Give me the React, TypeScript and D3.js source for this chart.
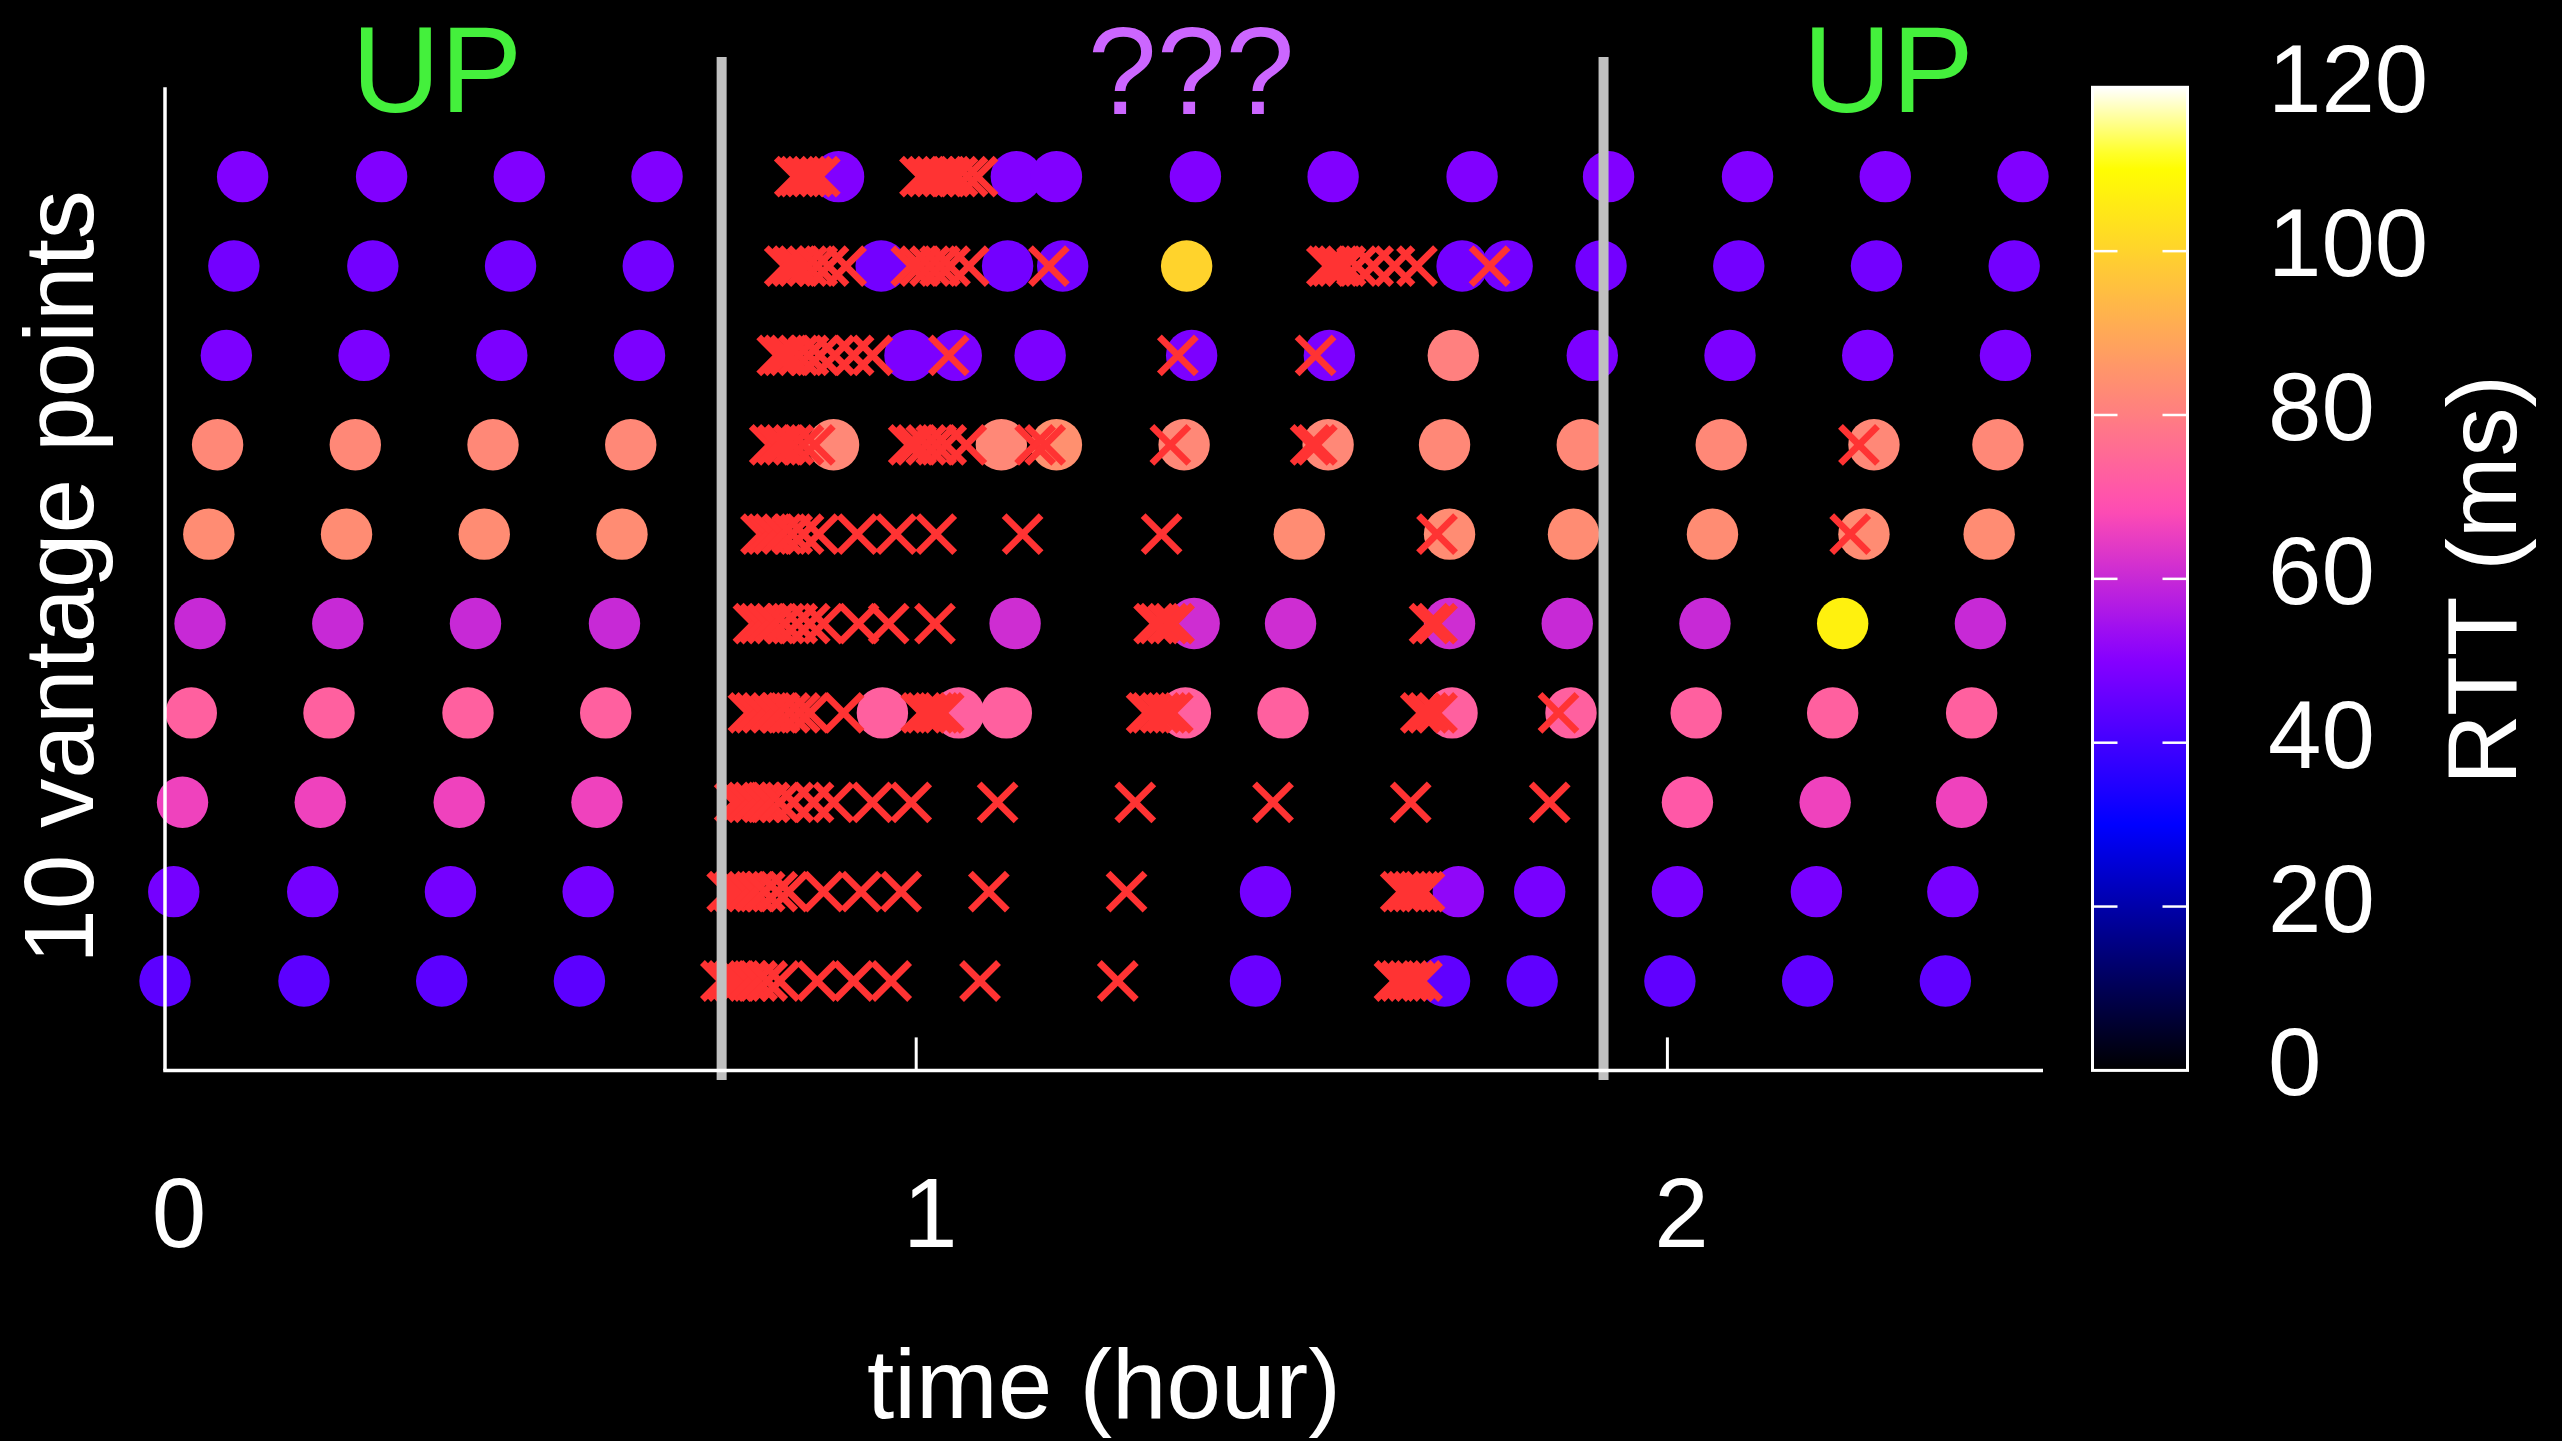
import React from "react";
import * as d3 from "d3";

// ---------- data (time in minutes, RTT in ms) ----------
const vantageIds = [10, 9, 8, 7, 6, 5, 4, 3, 2, 1];

const rttVP10: [number, number][] = [[6.2,49.5],[17.3,49.5],[28.3,49.5],[39.3,49.5],[53.8,49.5],[68.0,49.5],[71.2,49.5],[82.3,49.5],[93.3,49.5],[104.4,49.5],[115.3,49.5],[126.4,49.5],[137.4,49.5],[148.4,49.5]];
const lossVP10 = [50.3,50.7,51.2,51.7,52.3,60.3,60.9,61.5,62.1,62.7,63.3,64.1,64.9];

const rttVP9: [number, number][] = [[5.5,47.3],[16.6,47.3],[27.6,47.3],[38.6,47.3],[57.2,47.3],[67.3,47.3],[71.7,47.3],[81.6,100],[103.6,47.3],[107.2,47.3],[114.7,47.3],[125.7,47.3],[136.7,47.3],[147.7,47.3]];
const lossVP9 = [49.5,50.1,50.6,51.3,52.1,53.0,54.4,59.6,60.3,61.1,61.9,62.7,64.2,70.6,92.8,93.2,93.7,94.3,95.2,96.5,98.2,100.0,105.8];

const rttVP8: [number, number][] = [[4.9,48.6],[15.9,48.6],[26.9,48.6],[37.9,48.6],[59.5,48.6],[63.2,48.6],[69.9,48.6],[82.0,48.6],[93.0,48.6],[102.9,80.5],[114.0,48.6],[125.0,48.6],[136.0,48.6],[147.0,48.6]];
const lossVP8 = [48.9,49.4,49.9,50.6,51.4,52.3,53.5,55.0,56.5,62.6,80.9,91.9];

const rttVP7: [number, number][] = [[4.2,82.4],[15.2,82.4],[26.2,82.4],[37.2,82.4],[53.4,82.4],[66.8,82.4],[71.2,84.3],[81.4,82.4],[92.9,82.4],[102.2,82.4],[113.2,82.4],[124.3,82.4],[136.5,82.4],[146.4,82.4]];
const lossVP7 = [48.3,48.9,49.5,50.2,51.0,51.9,59.4,60.0,60.8,61.6,62.4,64.0,69.5,70.3,80.3,91.5,92.0,135.3];

const rttVP6: [number, number][] = [[3.5,83.3],[14.5,83.3],[25.5,83.3],[36.5,83.3],[90.6,83.3],[102.6,83.3],[112.5,83.3],[123.6,83.3],[135.7,83.3],[145.7,83.3]];
const lossVP6 = [47.6,48.1,48.6,49.3,50.1,51.0,52.2,55.3,58.4,61.6,68.5,79.6,101.6,134.6];

const rttVP5: [number, number][] = [[2.8,60],[13.8,60],[24.8,60],[35.9,60],[67.9,61],[82.2,61],[89.9,61],[102.6,61],[112.0,60],[123.0,60],[134.0,107],[145.0,60]];
const lossVP5 = [47.0,47.5,48.1,48.7,49.5,50.5,51.5,52.6,55.4,57.8,61.5,79.0,79.4,80.1,80.6,101.0,101.6];

const rttVP4: [number, number][] = [[2.1,73],[13.1,73],[24.2,73],[35.2,73],[57.3,73],[63.4,73],[67.2,73],[81.5,73],[89.3,73],[102.8,73],[112.3,73],[122.3,73],[133.2,73],[144.3,73]];
const lossVP4 = [46.6,47.1,47.7,48.4,49.1,49.9,50.7,51.5,54.2,60.4,60.8,61.4,61.8,62.2,78.4,78.8,79.5,80.0,80.5,100.3,100.9,101.6,111.3];

const rttVP3: [number, number][] = [[1.4,66],[12.4,66],[23.5,66],[34.5,66],[121.6,71],[132.6,66],[143.5,66]];
const lossVP3 = [45.5,45.9,46.5,47.0,47.7,48.3,49.1,50.2,51.8,53.4,56.5,59.6,66.5,77.5,88.5,99.5,110.6];

const rttVP2: [number, number][] = [[0.7,47.6],[11.8,47.6],[22.8,47.6],[33.8,47.6],[87.9,47.6],[103.3,51.7],[109.8,48],[120.8,48],[131.9,48],[142.8,48]];
const lossVP2 = [44.9,45.4,45.9,46.5,47.1,47.9,48.9,49.8,52.6,55.6,58.8,65.8,76.8,98.7,99.2,99.7,100.2,100.6];

const rttVP1: [number, number][] = [[0.0,43.9],[11.1,43.9],[22.1,43.9],[33.1,43.9],[87.1,45.9],[102.2,44.4],[109.2,44.4],[120.2,44.4],[131.2,44.4],[142.2,44.4]];
const lossVP1 = [44.4,44.9,45.4,45.9,46.6,47.3,48.1,49.1,52.1,55.0,58.0,65.1,76.1,98.2,98.7,99.3,99.8,100.4];

const rttByVP = [rttVP10, rttVP9, rttVP8, rttVP7, rttVP6, rttVP5, rttVP4, rttVP3, rttVP2, rttVP1];
const lossByVP = [lossVP10, lossVP9, lossVP8, lossVP7, lossVP6, lossVP5, lossVP4, lossVP3, lossVP2, lossVP1];

const phaseBoundsMin = [44.46, 114.9];
const phaseLabels = ["UP", "???", "UP"];
const phaseLabelHours = [0.362, 1.366, 2.294];
const phaseColors = ["#44f03c", "#cc66ff", "#44f03c"];

const xTicks = [0, 1, 2];
const cbTicks = [0, 20, 40, 60, 80, 100, 120];

// ---------- palette: gnuplot rgbformulae 30,31,32 ----------
const clamp = (v: number) => Math.max(0, Math.min(1, v));
function palette(v: number): string {
  const t = clamp(v / 120);
  const r = clamp(t / 0.32 - 0.78125);
  const g = clamp(2 * t - 0.84);
  let b: number;
  if (t < 0.25) b = 4 * t;
  else if (t < 0.42) b = 1;
  else if (t < 0.92) b = -2 * t + 1.84;
  else b = t / 0.08 - 11.5;
  b = clamp(b);
  return d3.rgb(Math.round(r * 255), Math.round(g * 255), Math.round(b * 255)).formatHex();
}

const FONT = "'Liberation Sans', Arial, Helvetica, sans-serif";

export default function App() {
  const W = 2562, H = 1441;
  const x = d3.scaleLinear().domain([0, 2.5]).range([165, 2043]);
  const y = d3.scaleLinear().domain([0, 11]).range([1070.4, 87.3]);
  const cb = d3.scaleLinear().domain([0, 120]).range([1070.4, 87.3]);
  const xm = (m: number) => x(m / 60);
  const R = 25.7;
  const h = 18.5;

  const gradStops = d3.range(0, 121, 2);
  const cbX0 = 2092.5, cbX1 = 2187.5;

  return (
    <svg width={W} height={H} style={{ position: "fixed", left: 0, top: 0, background: "#000" }}>
      <defs>
        <linearGradient id="cbgrad" x1="0" y1="1" x2="0" y2="0">
          {gradStops.map((v) => (
            <stop key={v} offset={v / 120} stopColor={palette(v)} />
          ))}
        </linearGradient>
      </defs>
      <rect x={0} y={0} width={W} height={H} fill="#000" />

      {/* dots */}
      {rttByVP.map((row, i) =>
        row.map(([t, rtt], j) => (
          <circle key={`d${i}-${j}`} cx={xm(t)} cy={y(vantageIds[i])} r={R} fill={palette(rtt)} />
        ))
      )}

      {/* losses */}
      {lossByVP.map((row, i) =>
        row.map((t, j) => {
          const cx = xm(t), cy = y(vantageIds[i]);
          return (
            <g key={`x${i}-${j}`} stroke="#ff3333" strokeWidth={6.8} strokeLinecap="butt">
              <line x1={cx - h} y1={cy - h} x2={cx + h} y2={cy + h} />
              <line x1={cx - h} y1={cy + h} x2={cx + h} y2={cy - h} />
            </g>
          );
        })
      )}

      {/* phase boundaries */}
      {phaseBoundsMin.map((m, i) => (
        <line key={`b${i}`} x1={xm(m)} x2={xm(m)} y1={57} y2={1080} stroke="#c0c0c0" strokeWidth={10} />
      ))}

      {/* axes */}
      <line x1={x(0)} x2={x(0)} y1={y(11)} y2={y(0)} stroke="#fff" strokeWidth={3.5} />
      <line x1={x(0) - 1.75} x2={x(2.5)} y1={y(0)} y2={y(0)} stroke="#fff" strokeWidth={3.5} />
      {xTicks.filter((t) => t > 0).map((t) => (
        <line key={`t${t}`} x1={x(t)} x2={x(t)} y1={y(0)} y2={y(0) - 33} stroke="#fff" strokeWidth={3} />
      ))}
      {xTicks.map((t) => (
        <text key={`tl${t}`} x={x(t) + 14} y={1247} fill="#fff" fontFamily={FONT} fontSize={98} textAnchor="middle">
          {t}
        </text>
      ))}
      <text x={(x(0) + x(2.5)) / 2} y={1418} fill="#fff" fontFamily={FONT} fontSize={98} textAnchor="middle">
        time (hour)
      </text>
      <text transform={`translate(93,577) rotate(-90)`} fill="#fff" fontFamily={FONT} fontSize={98} textAnchor="middle">
        10 vantage points
      </text>

      {/* phase labels */}
      {phaseLabels.map((s, i) => (
        <text
          key={`p${i}`}
          x={x(phaseLabelHours[i])}
          y={s === "???" ? 114 : 112}
          fill={phaseColors[i]}
          fontFamily={FONT}
          fontSize={s === "???" ? 124 : 123}
          textAnchor="middle"
        >
          {s}
        </text>
      ))}

      {/* colorbar */}
      <rect x={cbX0} y={cb(120)} width={cbX1 - cbX0} height={cb(0) - cb(120)} fill="url(#cbgrad)" stroke="#fff" strokeWidth={3} />
      {cbTicks.filter((v) => v > 0 && v < 120).map((v) => (
        <g key={`cbt${v}`} stroke="#fff" strokeWidth={2.5}>
          <line x1={cbX0} x2={cbX0 + 25} y1={cb(v)} y2={cb(v)} />
          <line x1={cbX1 - 25} x2={cbX1} y1={cb(v)} y2={cb(v)} />
        </g>
      ))}
      {cbTicks.map((v) => (
        <text key={`cbl${v}`} x={2268} y={cb(v) + 25} fill="#fff" fontFamily={FONT} fontSize={96} textAnchor="start">
          {v}
        </text>
      ))}
      <text transform={`translate(2516,580) rotate(-90)`} fill="#fff" fontFamily={FONT} fontSize={98} textAnchor="middle">
        RTT (ms)
      </text>
    </svg>
  );
}
